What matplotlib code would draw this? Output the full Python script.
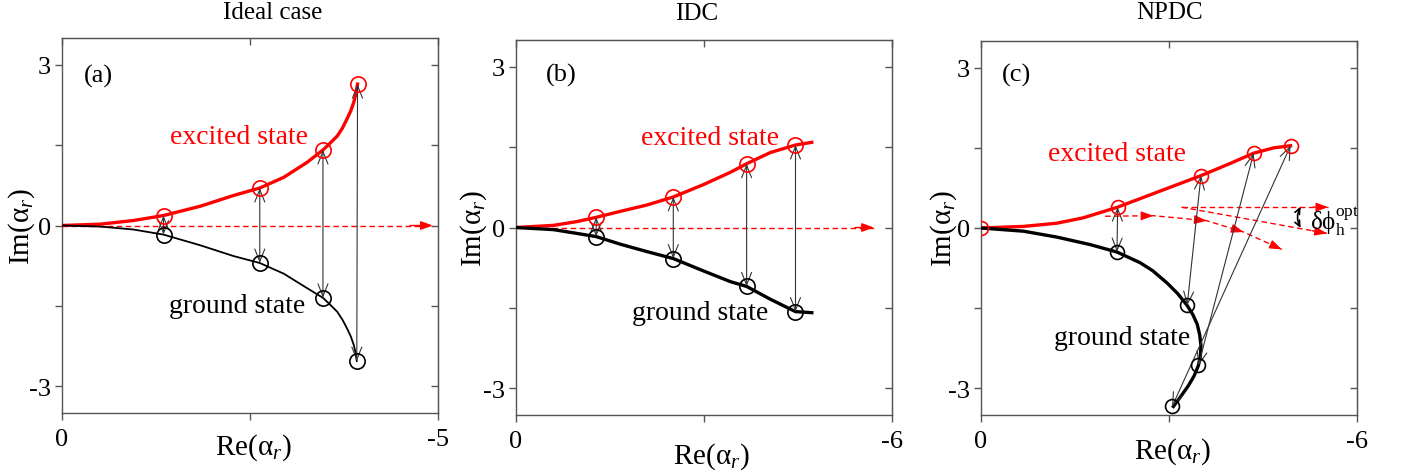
import matplotlib
matplotlib.use("Agg")
import matplotlib.pyplot as plt
import numpy as np

plt.rcParams['font.family'] = ['Liberation Serif', 'DejaVu Serif']
plt.rcParams['mathtext.fontset'] = 'custom'
plt.rcParams['mathtext.rm'] = 'Liberation Serif'
plt.rcParams['mathtext.it'] = 'Liberation Serif:italic'
plt.rcParams['axes.unicode_minus'] = False
plt.rcParams['lines.solid_joinstyle'] = 'round'

# ---------------- data ----------------
titles = ["Ideal case", "IDC", "NPDC"]
panel_tags = ["(a)", "(b)", "(c)"]
xlims = [-5, -6, -6]

# Panel (a) - ideal case
a_exc_x = [0, -0.51, -0.95, -1.35, -1.84, -2.28, -2.63, -2.95, -3.26, -3.47, -3.56, -3.66,
           -3.73, -3.79, -3.84, -3.88, -3.91, -3.93]
a_exc_y = [0, 0.025, 0.093, 0.186, 0.36, 0.56, 0.70, 0.90, 1.18, 1.41, 1.53, 1.67,
           1.82, 1.99, 2.14, 2.30, 2.47, 2.64]
a_gnd_x = [0, -0.51, -0.95, -1.35, -1.84, -2.28, -2.63, -2.95, -3.26, -3.47, -3.56, -3.66,
           -3.73, -3.79, -3.84, -3.88, -3.905, -3.92]
a_gnd_y = [0, -0.02, -0.075, -0.17, -0.37, -0.57, -0.70, -0.90, -1.17, -1.35, -1.47, -1.61,
           -1.76, -1.92, -2.07, -2.23, -2.38, -2.53]
a_exc_pts_x = [-1.35, -2.63, -3.47, -3.93]
a_exc_pts_y = [0.186, 0.70, 1.41, 2.64]
a_gnd_pts_x = [-1.35, -2.63, -3.47, -3.92]
a_gnd_pts_y = [-0.17, -0.70, -1.35, -2.53]
a_ref_arrow = [0.0, -4.93]

# Panel (b) - IDC
b_exc_x = [0, -0.60, -0.97, -1.28, -1.66, -2.09, -2.51, -2.99, -3.42, -3.68, -4.06, -4.46, -4.72]
b_exc_y = [0, 0.04, 0.11, 0.19, 0.30, 0.42, 0.57, 0.80, 1.03, 1.19, 1.40, 1.54, 1.59]
b_gnd_x = [0, -0.60, -0.97, -1.28, -1.66, -2.09, -2.51, -2.99, -3.42, -3.68, -4.06, -4.46, -4.72]
b_gnd_y = [0, -0.04, -0.11, -0.17, -0.31, -0.45, -0.58, -0.81, -1.01, -1.10, -1.34, -1.57, -1.59]
b_exc_pts_x = [-1.28, -2.51, -3.68, -4.46]
b_exc_pts_y = [0.19, 0.57, 1.19, 1.54]
b_gnd_pts_x = [-1.28, -2.51, -3.68, -4.46]
b_gnd_pts_y = [-0.17, -0.58, -1.10, -1.57]
b_ref_arrow = [0.0, -5.71]

# Panel (c) - NPDC
c_exc_x = [0, -0.68, -1.21, -1.63, -2.18, -2.81, -3.51, -3.98, -4.35, -4.67, -4.94]
c_exc_y = [0, 0.03, 0.09, 0.19, 0.39, 0.67, 0.98, 1.21, 1.40, 1.50, 1.54]
c_gnd_x = [0, -0.68, -1.21, -1.74, -2.17, -2.54, -2.74, -2.97, -3.14, -3.29, -3.38, -3.45,
           -3.49, -3.51, -3.50, -3.47, -3.40, -3.31, -3.19, -3.07]
c_gnd_y = [0, -0.06, -0.17, -0.31, -0.45, -0.65, -0.80, -1.03, -1.23, -1.45, -1.62, -1.80,
           -2.00, -2.21, -2.40, -2.57, -2.77, -2.95, -3.15, -3.34]
c_exc_pts_x = [0.0, -2.18, -3.51, -4.35, -4.94]
c_exc_pts_y = [0.0, 0.39, 0.98, 1.40, 1.54]
c_gnd_pts_x = [-2.17, -3.29, -3.47, -3.05]
c_gnd_pts_y = [-0.45, -1.45, -2.57, -3.34]
# dashed phase arrows in (c)
c_phase_x = [-1.98, -2.75, -3.60, -4.19, -4.80]
c_phase_y = [0.22, 0.23, 0.137, -0.075, -0.40]
c_opt_start = (-3.20, 0.39)
c_opt_ends_x = [-5.54, -5.52]
c_opt_ends_y = [0.39, -0.10]
c_angle_x = -5.10
c_angle_y = [0.40, 0.0]

panels = [
    dict(ex=a_exc_x, ey=a_exc_y, gx=a_gnd_x, gy=a_gnd_y,
         epx=a_exc_pts_x, epy=a_exc_pts_y, gpx=a_gnd_pts_x, gpy=a_gnd_pts_y,
         ref=a_ref_arrow, glw=1.3, ms=11,
         exc_txt=(-2.35, 1.66), gnd_txt=(-2.33, -1.49), tag=(-0.48, 2.80)),
    dict(ex=b_exc_x, ey=b_exc_y, gx=b_gnd_x, gy=b_gnd_y,
         epx=b_exc_pts_x, epy=b_exc_pts_y, gpx=b_gnd_pts_x, gpy=b_gnd_pts_y,
         ref=b_ref_arrow, glw=2.4, ms=11,
         exc_txt=(-3.10, 1.68), gnd_txt=(-2.94, -1.59), tag=(-0.72, 2.86)),
    dict(ex=c_exc_x, ey=c_exc_y, gx=c_gnd_x, gy=c_gnd_y,
         epx=c_exc_pts_x, epy=c_exc_pts_y, gpx=c_gnd_pts_x, gpy=c_gnd_pts_y,
         ref=None, glw=2.4, ms=10,
         exc_txt=(-2.17, 1.40), gnd_txt=(-2.25, -2.05), tag=(-0.56, 2.87)),
]

W, H = 1401, 477
fig = plt.figure(figsize=(W / 100, H / 100), dpi=100)

ax_boxes = [(62, 39, 438, 414), (516, 41, 892, 416), (981, 42, 1357, 416)]
title_pos = [(273, 13), (697, 14), (1170, 13)]
xlabel_pos = [(253, 448), (711, 457), (1172, 452)]
ylabel_off = [-0.108, -0.112, -0.098]

spine_col = '#555555'
arrow_col = '#333333'

for i, p in enumerate(panels):
    l, t, r, b = ax_boxes[i]
    ax = fig.add_axes([l / W, 1 - b / H, (r - l) / W, (b - t) / H])
    ax.set_xlim(0, xlims[i])
    ax.set_ylim(-3.5, 3.5)

    # curves
    ax.plot(p['ex'], p['ey'], color='red', lw=2.4, zorder=3)
    ax.plot(p['gx'], p['gy'], color='black', lw=p['glw'], zorder=3)

    # reference dashed arrow
    if p['ref'] is not None:
        ax.plot(p['ref'], [0, 0], color='red', lw=1.0, ls=(0, (4, 2.5)), zorder=2)
        ax.annotate('', xy=(p['ref'][1], 0), xytext=(p['ref'][1] + 0.3, 0),
                    arrowprops=dict(arrowstyle='-|>,head_length=0.6,head_width=0.22',
                                    color='red', lw=1.0, shrinkA=0, shrinkB=0,
                                    mutation_scale=12), zorder=2)

    # transitions (double arrows)
    n = len(p['gpx'])
    for gx, gy, ex, ey in zip(p['gpx'], p['gpy'], p['epx'][-n:], p['epy'][-n:]):
        ax.annotate('', xy=(ex, ey), xytext=(gx, gy),
                    arrowprops=dict(arrowstyle='<->,head_length=0.6,head_width=0.24',
                                    color=arrow_col, lw=0.8, shrinkA=0, shrinkB=0,
                                    mutation_scale=15), zorder=4)

    # circles
    ax.plot(p['epx'], p['epy'], 'o', mfc='none', mec='red', ms=p['ms'], mew=1.2, zorder=5)
    ax.plot(p['gpx'], p['gpy'], 'o', mfc='none', mec='black', ms=p['ms'], mew=1.2, zorder=5,
            clip_on=False)

    # texts
    ax.text(*p['exc_txt'], 'excited state', color='red', fontsize=20, ha='center', va='center')
    ax.text(*p['gnd_txt'], 'ground state', color='black', fontsize=20, ha='center', va='center')
    ax.text(*p['tag'], panel_tags[i], fontsize=19, ha='center', va='center')

    # ticks
    xt = [0, xlims[i]]
    ax.set_xticks(xt)
    ax.set_xticklabels([str(v) for v in xt])
    ax.set_xticks([xlims[i] / 2], minor=True)
    ax.set_yticks([-3, 0, 3])
    ax.set_yticklabels(['-3', '0', '3'])
    ax.set_yticks([-1.5, 1.5], minor=True)
    ax.tick_params(which='both', direction='out', length=5, width=1, color=spine_col,
                   labelsize=19, top=False, right=False)
    ax.tick_params(axis='x', pad=6)
    ax.tick_params(axis='y', pad=3)
    for s in ax.spines.values():
        s.set_color(spine_col)
        s.set_linewidth(1.0)

    sx = ax.secondary_xaxis('top')
    sx.set_xticks(xt)
    sx.set_xticks([xlims[i] / 2], minor=True)
    sx.tick_params(which='both', direction='in', length=5, width=1, color=spine_col,
                   labeltop=False)
    sx.spines['top'].set_color(spine_col)
    sy = ax.secondary_yaxis('right')
    sy.set_yticks([-3, 0, 3])
    sy.set_yticks([-1.5, 1.5], minor=True)
    sy.tick_params(which='both', direction='in', length=5, width=1, color=spine_col,
                   labelright=False)
    sy.spines['right'].set_color(spine_col)

    # labels
    ax.text(ylabel_off[i], 0.5, r'Im(α$_{\mathit{r}}$)', transform=ax.transAxes,
            rotation=90, ha='center', va='center', fontsize=21)
    fig.text(xlabel_pos[i][0] / W, 1 - xlabel_pos[i][1] / H, r'Re(α$_{\mathit{r}}$)',
             ha='center', va='center', fontsize=21)
    fig.text(title_pos[i][0] / W, 1 - title_pos[i][1] / H, titles[i],
             ha='center', va='center', fontsize=18)

    if i == 2:
        # dashed phase trajectory with arrowheads
        ax.plot(c_phase_x, c_phase_y, color='red', lw=1.0, ls=(0, (4, 2.5)), zorder=2)
        for k in range(1, len(c_phase_x)):
            x0, y0 = c_phase_x[k - 1], c_phase_y[k - 1]
            x1, y1 = c_phase_x[k], c_phase_y[k]
            f = 0.15
            ax.annotate('', xy=(x1, y1), xytext=(x1 - f * (x1 - x0), y1 - f * (y1 - y0)),
                        arrowprops=dict(arrowstyle='-|>,head_length=0.6,head_width=0.22',
                                        color='red', lw=1.0, shrinkA=0, shrinkB=0,
                                        mutation_scale=12), zorder=2)
        for ex_, ey_ in zip(c_opt_ends_x, c_opt_ends_y):
            ax.plot([c_opt_start[0], ex_], [c_opt_start[1], ey_], color='red', lw=1.0,
                    ls=(0, (4, 2.5)), zorder=2)
            f = 0.1
            ax.annotate('', xy=(ex_, ey_),
                        xytext=(ex_ - f * (ex_ - c_opt_start[0]), ey_ - f * (ey_ - c_opt_start[1])),
                        arrowprops=dict(arrowstyle='-|>,head_length=0.6,head_width=0.22',
                                        color='red', lw=1.0, shrinkA=0, shrinkB=0,
                                        mutation_scale=12), zorder=2)
        ax.annotate('', xy=(c_angle_x, c_angle_y[1]), xytext=(c_angle_x, c_angle_y[0]),
                    arrowprops=dict(arrowstyle='<->,head_length=0.4,head_width=0.18',
                                    color='black', lw=1.2, shrinkA=0, shrinkB=0,
                                    mutation_scale=10,
                                    connectionstyle='arc3,rad=0.25'), zorder=4)
        ax.text(-5.25, 0.14, r'δϕ$_\mathrm{h}^\mathrm{opt}$', fontsize=18, ha='left', va='center')

fig.savefig('out.png', dpi=100)
